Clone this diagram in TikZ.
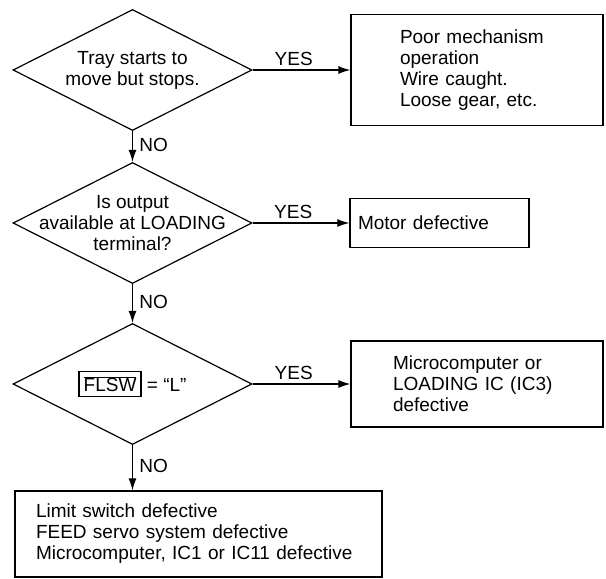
\documentclass[tikz,border=0pt]{standalone}
\usepackage{fontspec}
\setmainfont{Liberation Sans}
\usetikzlibrary{shapes.geometric, arrows.meta}

\tikzset{
  decision/.style={draw, diamond, inner sep=0pt, minimum width=239pt, minimum height=121pt},
  result/.style={draw, rectangle, align=left},
}

\begin{document}
\begin{tikzpicture}[x=1pt, y=-1pt, auto, >={Latex[length=12pt,width=8pt]}, ->,
    line width=1.2pt, font=\fontsize{19}{21}\selectfont]
      \useasboundingbox (0,0) rectangle (606,579);
      \node[decision, label={[align=center]center:Tray starts to\\move but stops.}] (q1) at (132.5,70) {};
      \node[decision, label={[align=center]center:Is output\\available at LOADING\\terminal?}] (q2) at (132.5,223) {};
      \node[decision, label={center:{\fboxsep=4pt\fboxrule=1.2pt\fbox{$\overline{\mbox{FLSW}}$} = “L”}}] (q3) at (132.5,384) {};
      \node[result, minimum height=111pt, inner xsep=49pt, text width=154pt] (r1) at (477,70) {Poor mechanism\\operation\\Wire caught.\\Loose gear, etc.};
      \node[result, minimum height=49pt, inner xsep=8pt, text width=163pt] (r2) at (439.5,223) {Motor defective};
      \node[result, minimum height=86pt, inner xsep=42pt, text width=168pt] (r3) at (477,384) {Microcomputer or\\LOADING IC (IC3)\\defective};
      \node[result, minimum height=86pt, inner xsep=21pt, text width=325pt] (r4) at (198.5,534) {Limit switch defective\\FEED servo system defective\\Microcomputer, IC1 or IC11 defective};
      % yes branches
      \draw (q1.east) -- node[pos=0.42] {YES} (q1.east -| r1.west);
      \draw (q2.east) -- node[pos=0.42] {YES} (q2.east -| r2.west);
      \draw (q3.east) -- node[pos=0.42] {YES} (q3.east -| r3.west);
      % no branches
      \draw (q1.south) -- node[pos=0.45, xshift=3pt] {NO} (q2.north);
      \draw (q2.south) -- node[pos=0.45, xshift=3pt] {NO} (q3.north);
      \draw (q3.south) -- node[pos=0.45, xshift=3pt] {NO} (q3.south |- r4.north);
    \end{tikzpicture}
\end{document}
